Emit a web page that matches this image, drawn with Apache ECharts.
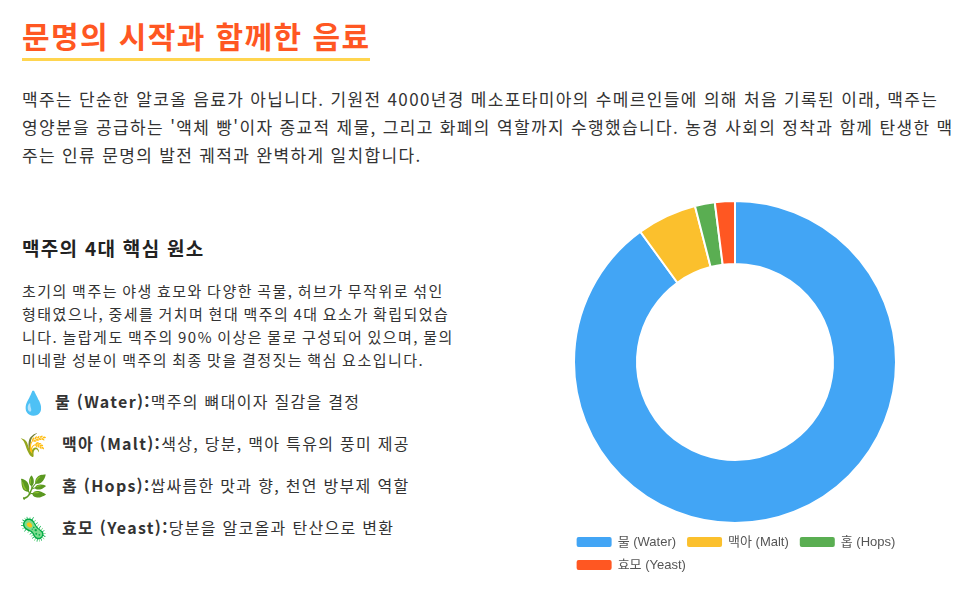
<!DOCTYPE html>
<html lang="ko">
<head>
<meta charset="utf-8">
<script src="https://cdn.jsdelivr.net/npm/echarts@6/dist/echarts.min.js"></script>
<style>
  body { margin: 0; background: #fff; font-family: "Noto Sans CJK KR", "Noto Sans", sans-serif; color: #333; }
  .page { position: relative; width: 975px; height: 607px; overflow: hidden; }
  h1 { position: absolute; left: 22px; top: 14px; margin: 0; font-size: 30px; font-weight: 700; color: #FF5722;
       letter-spacing: 1.4px; padding-bottom: 2px; border-bottom: 3px solid #FFD54F; line-height: 42px; }
  .intro { position: absolute; left: 22px; top: 85px; width: 935px; margin: 0; font-size: 17px; letter-spacing: 1.35px;
           line-height: 28px; color: #333; }
  .left { position: absolute; left: 22px; top: 233px; width: 440px; }
  .left h2 { margin: 0; font-size: 19px; letter-spacing: 1.3px; font-weight: 700; color: #222; line-height: 30px; }
  .left p { margin: 16px 0 0; width: 437px; font-size: 15px; letter-spacing: 1.5px; word-spacing: -1.5px; line-height: 23px; color: #333; }
  .left ul { list-style: none; margin: 9px 0 0; padding: 0; }
  .left li { height: 42px; display: flex; align-items: center; font-size: 16px; letter-spacing: 1.3px; color: #333; white-space: nowrap; }
  .left li .ic { width: 43px; margin-left: -3px; font-size: 23px; letter-spacing: 0; }
  .left li:first-child .ic { width: 36px; }
  #main { position: absolute; left: 520px; top: 185px; width: 430px; height: 400px; }
</style>
</head>
<body>
<div class="page">
  <h1>문명의 시작과 함께한 음료</h1>
  <p class="intro">맥주는 단순한 알코올 음료가 아닙니다. 기원전 4000년경 메소포타미아의 수메르인들에 의해 처음 기록된 이래, 맥주는 영양분을 공급하는 '액체 빵'이자 종교적 제물, 그리고 화폐의 역할까지 수행했습니다. 농경 사회의 정착과 함께 탄생한 맥주는 인류 문명의 발전 궤적과 완벽하게 일치합니다.</p>
  <div class="left">
    <h2>맥주의 4대 핵심 원소</h2>
    <p>초기의 맥주는 야생 효모와 다양한 곡물, 허브가 무작위로 섞인 형태였으나, 중세를 거치며 현대 맥주의 4대 요소가 확립되었습니다. 놀랍게도 맥주의 90% 이상은 물로 구성되어 있으며, 물의 미네랄 성분이 맥주의 최종 맛을 결정짓는 핵심 요소입니다.</p>
    <ul id="items"></ul>
  </div>
  <div id="main"></div>
</div>
<script>
// 원소 데이터
const names = ['물 (Water)', '맥아 (Malt)', '홉 (Hops)', '효모 (Yeast)'];
const values = [90, 6, 2, 2];
const colors = ['#42A5F5', '#FBC02D', '#5AAE52', '#FF5722'];
const icons = ['💧', '🌾', '🌿', '🦠'];
const roles = ['맥주의 뼈대이자 질감을 결정', '색상, 당분, 맥아 특유의 풍미 제공', '쌉싸름한 맛과 향, 천연 방부제 역할', '당분을 알코올과 탄산으로 변환'];

const ul = document.getElementById('items');
names.forEach((n, i) => {
  const li = document.createElement('li');
  li.innerHTML = `<span class="ic">${icons[i]}</span><b>${n}:</b>${roles[i]}`;
  ul.appendChild(li);
});

const myChart = echarts.init(document.getElementById('main'));
myChart.setOption({
  color: colors,
  legend: {
    bottom: 8,
    left: 'center',
    width: 380,
    itemWidth: 37,
    itemHeight: 12,
    itemGap: 9,
    textStyle: { fontSize: 13, color: '#555', fontFamily: 'Arial, "Noto Sans CJK KR", sans-serif' },
    data: names
  },
  series: [{
    type: 'pie',
    center: [215, 177],
    radius: [98, 161],
    startAngle: 90,
    label: { show: false },
    labelLine: { show: false },
    itemStyle: { borderColor: '#fff', borderWidth: 2 },
    data: names.map((n, i) => ({ name: n, value: values[i] }))
  }]
});
</script>
</body>
</html>
